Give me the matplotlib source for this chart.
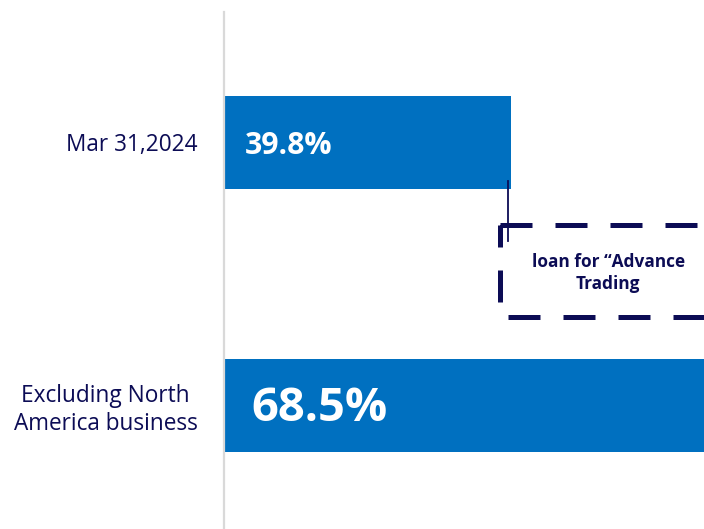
import matplotlib.pyplot as plt
from matplotlib.patches import Rectangle

categories = ["Mar 31,2024", "Excluding North\nAmerica business"]
values = [39.8, 68.5]
value_labels = ["39.8%", "68.5%"]
value_sizes = [21.8, 33.8]
value_pads = [15.3, 19.5]
note_text = "loan for \u201cAdvance\nTrading"

BLUE = "#0070C0"
NAVY = "#0C0C55"
GRID = "#D9D9D9"

plt.rcParams['font.family'] = ['Open Sans', 'DejaVu Sans']

fig = plt.figure(figsize=(7.04, 5.29), dpi=100)
# axes: left edge at x=224px, right edge at the figure edge
ax = fig.add_axes([224 / 704, 0, 480 / 704, 517 / 529])

y = list(range(len(categories)))
ax.barh(y, values, height=0.354, color=BLUE, zorder=2)

ax.set_xlim(0, 66.56)
ax.set_ylim(1.47, -0.496)

for s in ["top", "right", "bottom"]:
    ax.spines[s].set_visible(False)
ax.spines["left"].set_color(GRID)
ax.spines["left"].set_linewidth(1.6)
ax.set_xticks([])
ax.set_yticks(y)
ax.set_yticklabels(categories, fontsize=16.3, color=NAVY, multialignment='center')
ax.tick_params(axis='y', length=0, pad=19)

for i, (lab, sz, pd_) in enumerate(zip(value_labels, value_sizes, value_pads)):
    ax.annotate(lab, xy=(0, i), xytext=(pd_, -2.5), textcoords='offset points',
                ha='left', va='center', color='white', fontsize=sz,
                fontweight='bold', zorder=3)

# dashed callout box (runs off the right edge)
box = Rectangle((38.3, 0.314), 40, 0.349, fill=False, edgecolor=NAVY,
                linewidth=3.6, linestyle=(0, (6.4, 4.6)), zorder=3)
ax.add_patch(box)
ax.plot([39.38, 39.38], [0.146, 0.375], color=NAVY, linewidth=1.3, zorder=4)
ax.text(53.3, 0.497, note_text, ha='center', va='center', color=NAVY,
        fontsize=12.4, fontweight='bold', linespacing=1.3, zorder=4)

fig.savefig("out.png", dpi=100)
